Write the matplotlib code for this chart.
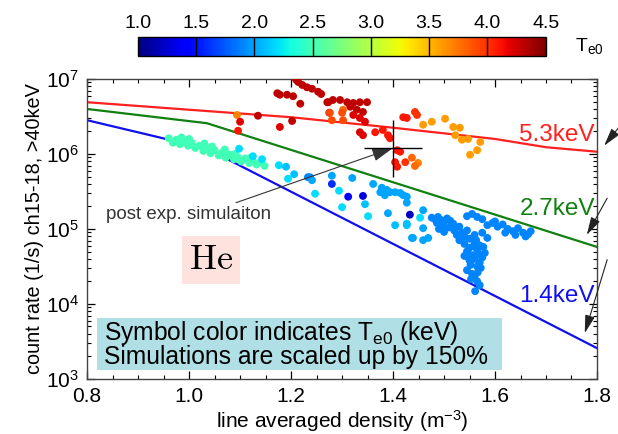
import numpy as np
import matplotlib.pyplot as plt
from matplotlib import colors
from matplotlib.ticker import MultipleLocator, LogLocator, NullFormatter
from matplotlib.patches import Rectangle

plt.rcParams['font.family'] = ['Liberation Sans', 'DejaVu Sans']
plt.rcParams['mathtext.fontset'] = 'custom'
plt.rcParams['mathtext.rm'] = 'Liberation Sans'
plt.rcParams['mathtext.it'] = 'Liberation Sans:italic'

# simulated count rate curves (log10 of count rate)
sim_dens_53 = [0.8, 1.0, 1.2, 1.4, 1.6, 1.7, 1.8]
sim_log_53 = [6.69, 6.59, 6.49, 6.35, 6.20, 6.09, 6.03]
sim_dens_27 = [0.8, 1.035, 1.8]
sim_log_27 = [6.60, 6.41, 4.76]
sim_dens_14 = [0.8, 1.035, 1.8]
sim_log_14 = [6.45, 6.07, 3.41]

# post experiment simulation point
post_dens = [1.40]
post_rate = [1.2e6]
post_dens_err = [0.057]
post_rate_lo = [4.9e5]
post_rate_hi = [2.8e6]

# measured shots: density, log10(count rate), Te0 (keV)
dens_a = [0.960, 0.968, 0.975, 0.982, 0.990, 0.998, 1.005, 1.012, 1.020, 1.028,
          1.035, 1.042, 1.050, 1.058, 1.065, 1.072, 1.080, 1.088, 1.095, 1.102,
          1.110, 1.118, 1.125, 1.132, 1.140, 1.148, 1.000, 1.045, 1.070, 0.985,
          1.030, 1.090, 1.120]
log_a = [6.21, 6.15, 6.19, 6.13, 6.17, 6.11, 6.15, 6.08, 6.11, 6.04,
         6.08, 6.01, 6.05, 5.98, 6.02, 5.95, 5.99, 5.93, 5.96, 5.90,
         5.94, 5.88, 5.91, 5.86, 5.89, 5.84, 6.20, 6.10, 6.06, 6.22,
         6.14, 6.00, 5.95]
te_a = 2.5

dens_b = [1.098, 1.125, 1.143, 1.176, 1.190, 1.206, 1.194, 1.233, 1.237, 1.241,
          1.280, 1.280, 1.320, 1.294, 1.247, 1.312, 1.341, 1.300, 1.345, 1.351,
          1.361, 1.378, 1.375, 1.388, 1.394, 1.404, 1.414, 1.420, 1.427, 1.384,
          1.427, 1.390, 1.433, 1.404, 1.427, 1.439, 1.453, 1.427, 1.459, 1.459,
          1.437, 1.459, 1.469]
log_b = [6.07, 5.97, 5.93, 5.85, 5.83, 5.73, 5.67, 5.69, 5.69, 5.65,
         5.71, 5.60, 5.68, 5.51, 5.47, 5.43, 5.44, 5.29, 5.33, 5.17,
         5.60, 5.55, 5.49, 5.52, 5.49, 5.49, 5.48, 5.45, 5.43, 5.45,
         5.35, 5.21, 5.19, 5.05, 5.05, 4.88, 5.15, 5.07, 5.25, 5.01,
         4.88, 4.85, 4.88]
te_b = [2.2, 2.2, 2.2, 2.2, 2.1, 2.1, 2.2, 1.9, 1.9, 2.0,
        2.0, 1.6, 2.0, 2.2, 2.2, 1.4, 1.3, 2.2, 2.1, 2.2,
        2.0, 2.0, 2.0, 2.0, 2.0, 2.0, 2.0, 2.0, 2.0, 2.0,
        2.0, 2.0, 1.2, 2.1, 2.1, 2.0, 2.2, 2.1, 2.0, 2.0,
        2.0, 2.0, 2.0]

dens_c = [1.476, 1.482, 1.488, 1.494, 1.500, 1.486, 1.506, 1.512, 1.518, 1.498,
          1.490, 1.500, 1.510, 1.520, 1.530, 1.525, 1.535, 1.540, 1.545, 1.550,
          1.530, 1.540, 1.550, 1.560, 1.545, 1.555, 1.565, 1.560, 1.570, 1.550,
          1.565, 1.575, 1.580, 1.570, 1.585, 1.560, 1.575,
          1.545, 1.555, 1.560, 1.565, 1.570, 1.561,
          1.545, 1.555, 1.565, 1.575, 1.585, 1.595, 1.605, 1.615, 1.625, 1.635,
          1.645, 1.655, 1.665, 1.670, 1.660, 1.640, 1.600, 1.620,
          1.552, 1.566, 1.558, 1.572, 1.548, 1.563, 1.577, 1.553, 1.568, 1.540]
log_c = [5.15, 5.13, 5.16, 5.12, 5.10, 5.08, 5.14, 5.11, 5.07, 5.04,
         5.00, 4.96, 5.02, 4.98, 5.03, 4.92, 4.95, 4.90, 4.98, 4.87,
         4.85, 4.80, 4.75, 4.82, 4.70, 4.65, 4.72, 4.60, 4.55, 4.58,
         4.50, 4.62, 4.68, 4.78, 4.88, 4.92, 4.95,
         4.45, 4.40, 4.35, 4.30, 4.25, 4.17,
         5.17, 5.20, 5.16, 5.13, 5.05, 5.08, 5.03, 5.06, 5.00, 4.97,
         5.01, 4.95, 4.93, 4.97, 4.90, 4.92, 5.10, 4.95,
         4.52, 4.42, 4.77, 4.48, 4.62, 4.85, 4.76, 4.33, 4.66, 4.64]
te_c = 1.9

dens_d = [1.210, 1.214, 1.222, 1.231, 1.241, 1.253, 1.259, 1.271, 1.282, 1.296,
          1.310, 1.322, 1.335, 1.349, 1.316, 1.329, 1.341, 1.322, 1.335, 1.345,
          1.335, 1.341, 1.365, 1.380, 1.390, 1.394, 1.173, 1.178, 1.192, 1.204,
          1.218, 1.135, 1.178, 1.202, 1.273, 1.275]
log_d = [6.99, 6.96, 6.92, 6.89, 6.87, 6.83, 6.80, 6.69, 6.72, 6.72,
         6.69, 6.68, 6.69, 6.69, 6.63, 6.59, 6.56, 6.52, 6.48, 6.43,
         6.29, 6.25, 6.29, 6.32, 6.25, 6.21, 6.81, 6.79, 6.79, 6.77,
         6.67, 6.51, 6.36, 6.44, 6.69, 6.55]
te_d = [4.3, 4.3, 4.3, 4.3, 4.3, 4.3, 4.3, 4.3, 4.3, 4.3,
        4.3, 4.3, 4.3, 4.3, 4.3, 4.3, 4.3, 4.2, 4.2, 4.2,
        4.2, 4.2, 4.1, 4.1, 4.1, 4.1, 4.3, 4.3, 4.3, 4.3,
        4.3, 4.3, 4.2, 4.3, 4.3, 4.3]

dens_e = [1.094, 1.100, 1.096, 1.276, 1.280, 1.302, 1.302, 1.300, 1.420, 1.427,
          1.443, 1.447, 1.408, 1.414, 1.404, 1.408, 1.424, 1.437, 1.449, 1.443]
log_e = [6.52, 6.43, 6.31, 6.55, 6.45, 6.45, 6.59, 6.55, 6.49, 6.48,
         6.56, 6.52, 6.05, 6.03, 5.89, 5.83, 5.89, 5.95, 5.88, 5.84]
te_e = [3.7, 4.2, 4.1, 3.9, 3.9, 3.9, 3.8, 3.9, 4.1, 4.1,
        4.0, 4.0, 4.1, 4.1, 4.1, 4.1, 4.0, 3.8, 3.7, 3.8]

dens_f = [1.459, 1.476, 1.502, 1.518, 1.531, 1.522, 1.535, 1.547, 1.571, 1.565, 1.551]
log_f = [6.39, 6.43, 6.47, 6.36, 6.35, 6.25, 6.19, 6.20, 6.16, 6.05, 5.99]
te_f = 3.6

density = np.concatenate([dens_a, dens_b, dens_c, dens_d, dens_e, dens_f])
rate = 10 ** np.concatenate([log_a, log_b, log_c, log_d, log_e, log_f])
te0 = np.concatenate([np.full(len(dens_a), te_a), te_b, np.full(len(dens_c), te_c),
                      te_d, te_e, np.full(len(dens_f), te_f)])

fig = plt.figure(figsize=(6.18, 4.34), dpi=100)
ax = fig.add_axes([0.141, 0.127, 0.825, 0.691])

norm = colors.Normalize(vmin=1.0, vmax=4.5)
sc = ax.scatter(density, rate, c=te0, cmap='jet', norm=norm, s=32, linewidths=0, zorder=3)

ax.plot(sim_dens_53, 10 ** np.array(sim_log_53), color='#ff2020', lw=1.6, zorder=2)
ax.plot(sim_dens_27, 10 ** np.array(sim_log_27), color='#108010', lw=1.6, zorder=2)
ax.plot(sim_dens_14, 10 ** np.array(sim_log_14), color='#1010ee', lw=1.6, zorder=2)

lo = np.array(post_rate) - np.array(post_rate_lo)
hi = np.array(post_rate_hi) - np.array(post_rate)
ax.errorbar(post_dens, post_rate, xerr=post_dens_err, yerr=[lo, hi], fmt='none',
            ecolor='black', elinewidth=1, capsize=0, zorder=4)

ax.set_yscale('log')
ax.set_xlim(0.8, 1.8)
ax.set_ylim(1e3, 1e7)
ax.xaxis.set_major_locator(MultipleLocator(0.2))
ax.xaxis.set_minor_locator(MultipleLocator(0.05))
ax.xaxis.set_major_formatter(plt.FuncFormatter(lambda v, p: f'{v:.1f}'))
ax.yaxis.set_minor_locator(LogLocator(base=10, subs=np.arange(2, 10)))
ax.yaxis.set_minor_formatter(NullFormatter())
ax.tick_params(which='both', direction='in', top=True, right=True, labelsize=15, pad=6)
ax.tick_params(which='major', length=6, width=0.9)
ax.tick_params(which='minor', length=3, width=0.8)
for sp in ax.spines.values():
    sp.set_linewidth(1.0)
    sp.set_color('#444444')

ax.set_xlabel('line averaged density (m$^{-3}$)', fontsize=15, labelpad=1)
ax.set_ylabel('count rate (1/s) ch15-18, >40keV', fontsize=14.3, labelpad=1)

# curve labels
ax.text(1.796, 10 ** 6.25, '5.3keV', color='#ff2020', fontsize=17.5, ha='right', va='center')
ax.text(1.796, 10 ** 5.27, '2.7keV', color='#108010', fontsize=17.5, ha='right', va='center')
ax.text(1.796, 10 ** 4.11, '1.4keV', color='#1010ee', fontsize=17.5, ha='right', va='center')

arrow = dict(arrowstyle='-|>,head_length=1.1,head_width=0.3', color='#222222', lw=0.8,
             shrinkA=0, shrinkB=0)
ax.annotate('', xy=(1.814, 10 ** 6.11), xytext=(1.86, 10 ** 6.50), arrowprops=arrow,
            annotation_clip=False)
ax.annotate('', xy=(1.780, 10 ** 4.92), xytext=(1.820, 10 ** 5.41), arrowprops=arrow,
            annotation_clip=False)
ax.annotate('', xy=(1.776, 10 ** 3.61), xytext=(1.820, 10 ** 4.59), arrowprops=arrow,
            annotation_clip=False)

ax.text(0.837, 10 ** 5.19, 'post exp. simulaiton', fontsize=13.5, color='#333333',
        ha='left', va='center')
ax.annotate('', xy=(1.40, 1.2e6), xytext=(1.092, 10 ** 5.35),
            arrowprops=dict(arrowstyle='-|>,head_length=1.3,head_width=0.4',
                            color='#333333', lw=0.8, shrinkA=0, shrinkB=0))

ax.text(1.043, 10 ** 4.59, r'$\mathrm{He}$', math_fontfamily='cm', fontsize=26,
        ha='center', va='center',
        bbox=dict(boxstyle='square,pad=0.18', facecolor='#fde2de', edgecolor='none'))

ax.add_patch(Rectangle((0.0196, 0.03), 0.795, 0.173, transform=ax.transAxes,
                       facecolor='#b0e0e6', edgecolor='none', zorder=1))
ax.text(0.033, 0.117, 'Symbol color indicates T$_{\\mathrm{e0}}$ (keV)\nSimulations are scaled up by 150%',
        transform=ax.transAxes, fontsize=17.7, ha='left', va='center', linespacing=0.92, zorder=5)

# colorbar
cax = fig.add_axes([0.223, 0.871, 0.660, 0.043])
cb = fig.colorbar(sc, cax=cax, orientation='horizontal')
cb.set_ticks([1.0, 1.5, 2.0, 2.5, 3.0, 3.5, 4.0, 4.5])
cb.ax.xaxis.set_ticks_position('top')
cb.ax.xaxis.set_major_formatter(plt.FuncFormatter(lambda v, p: f'{v:.1f}'))
cb.ax.tick_params(length=0, labelsize=14, pad=4)
cb.outline.set_linewidth(1.0)
for t in [1.5, 2.0, 2.5, 3.0, 3.5, 4.0]:
    cax.axvline(t, color='black', lw=1.0)
fig.text(0.93, 0.893, 'T$_{\\mathrm{e0}}$', fontsize=14, ha='left', va='center')

fig.savefig('out.png', dpi=100)
